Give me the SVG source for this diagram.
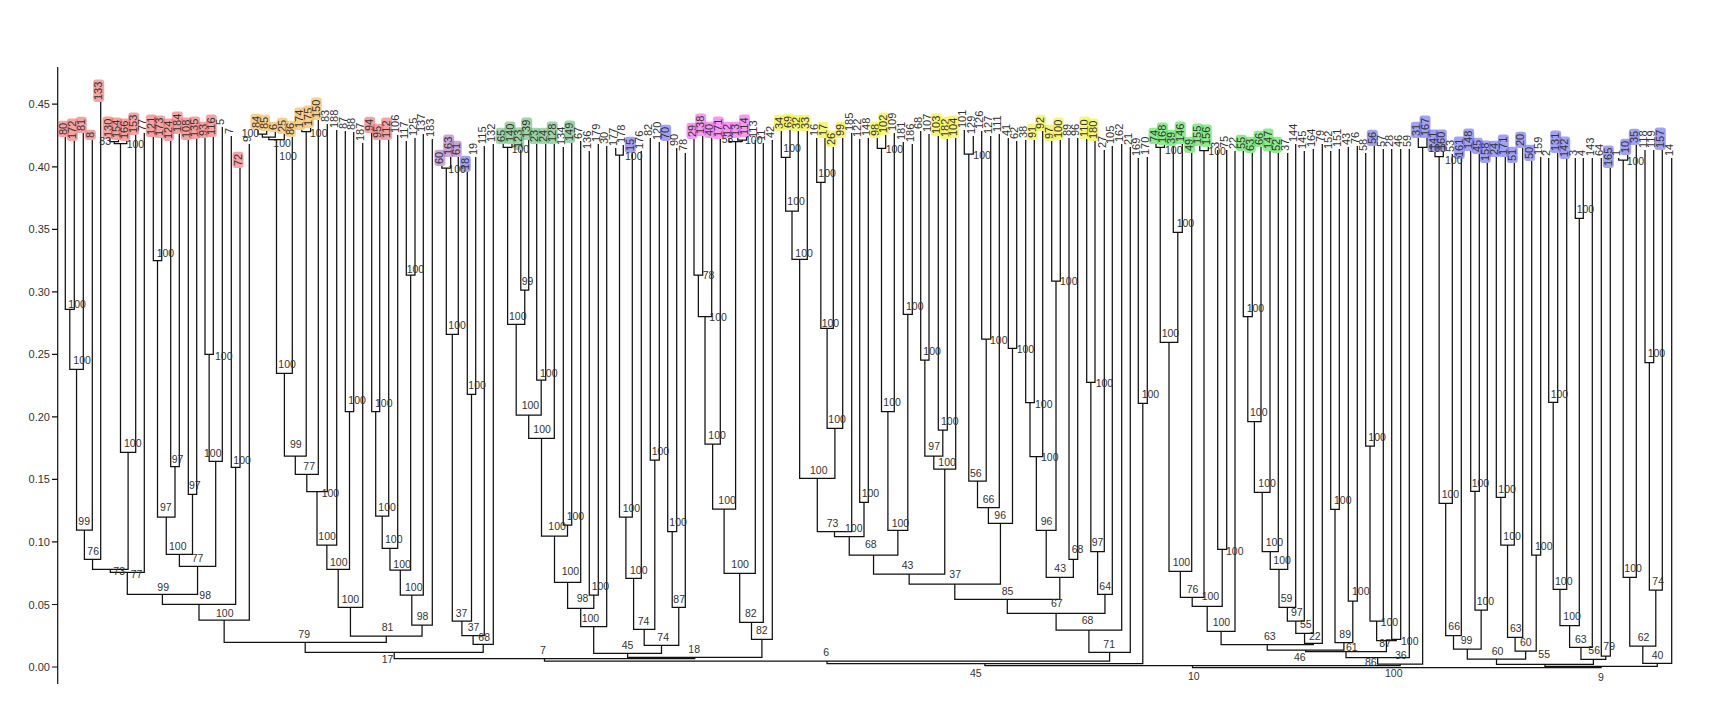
<svg xmlns="http://www.w3.org/2000/svg" width="1721" height="725" viewBox="0 0 1721 725">
<style>
text{font-family:"Liberation Sans",Arial,sans-serif;fill:#333}
.l{font-size:11px}
.b{font-size:10.5px}
.ax{font-size:11px;text-anchor:end}
.e path{fill:none;stroke:#111;stroke-width:1.25}
rect{opacity:.6}
.hr{fill:#ee6666}.ho{fill:#f3b041}.hp{fill:#a66cc2}.hb{fill:#6262ee}.hg{fill:#5fb96f}.hm{fill:#ee55ee}.hy{fill:#f0f020}.hG{fill:#44dd44}
</style>
<rect x="0" y="0" width="1721" height="725" fill="#fff" style="opacity:1"/>
<g id="axis">
<path d="M57.7 67V684M52 667H57.7M52 604.5H57.7M52 541.9H57.7M52 479.4H57.7M52 416.9H57.7M52 354.4H57.7M52 291.8H57.7M52 229.3H57.7M52 166.8H57.7M52 104.2H57.7" stroke="#111" stroke-width="1.2" fill="none"/>
<text class="ax" x="50" y="671">0.00</text><text class="ax" x="50" y="608.5">0.05</text><text class="ax" x="50" y="546">0.10</text><text class="ax" x="50" y="483.4">0.15</text><text class="ax" x="50" y="421">0.20</text><text class="ax" x="50" y="358.4">0.25</text><text class="ax" x="50" y="296">0.30</text><text class="ax" x="50" y="233.3">0.35</text><text class="ax" x="50" y="171">0.40</text><text class="ax" x="50" y="108.3">0.45</text>
</g>
<g id="connectors" class="e">
<path d="M65.3 137V309.3H74.3V141"/><path d="M69.8 309.3V369.3H83.3V133"/><path d="M76.55 369.3V530H92.3V140"/><path d="M84.4 530V559.3H100.7V102"/>
<path d="M110 139V141.7H118.5V140"/><path d="M114.25 141.7V143.5H126.8V141"/><path d="M120.5 143.5V452.3H135.7V135"/>
<path d="M92.55 559.3V569.3H128.1V452.3"/><path d="M110.3 569.3V572.3H144.3V133"/>
<path d="M153.3 137V260.7H161.7V138"/><path d="M170.7 141V466.7H179.3V134"/><path d="M188.3 140V494.3H196.7V139"/><path d="M205 138V354.3H213.3V137"/><path d="M209.15 354.3V461.3H222.3V127"/>
<path d="M157.5 260.7V517H175V466.7"/><path d="M166.25 517V554.3H192.5V494.3"/><path d="M179.4 554.3V566.3H215.7V461.3"/><path d="M127.3 572.3V594.3H197.55V566.3"/>
<path d="M231.3 136V467.3H240V168"/><path d="M162.4 594.3V604.3H235.65V467.3"/><path d="M199 604.3V620H249.3V144"/>
<path d="M258 130V134H266.7V131"/><path d="M262.35 134V137H275.3V132"/><path d="M268.8 137V139.5H284.3V134"/><path d="M276.5 139.5V373.3H292.3V137"/>
<path d="M301.8 130V131.7H310.6V128"/><path d="M284.4 373.3V456H306.2V131.7"/><path d="M295.3 456V474.3H318.3V120"/><path d="M306.8 474.3V491.7H327.3V124"/><path d="M317 491.7V545H336.7V130"/>
<path d="M345.3 131V411.7H353.7V132"/><path d="M326.85 545V569.3H349.5V411.7"/><path d="M338.2 569.3V607.3H362.7V143"/>
<path d="M371.7 133V411.7H379.7V140"/><path d="M375.7 411.7V516H388.7V140"/><path d="M382.2 516V548.3H397.7V135"/><path d="M406.3 141V275H415V138"/><path d="M389.95 548.3V570H410.65V275"/><path d="M400.3 570V595H423.3V134"/><path d="M411.8 595V625H432.3V139"/>
<path d="M350.45 607.3V636H422.05V625"/><path d="M224.15 620V642.3H386.25V636"/>
<path d="M441.9 166V168H450.7V157"/><path d="M446.3 168V334.3H458.3V157"/><path d="M467.3 172V394.3H475.7V157"/><path d="M452.3 334.3V621H471.5V394.3"/><path d="M461.9 621V635.7H484.3V146"/><path d="M473.1 635.7V644.3H493.3V144"/>
<path d="M305.2 642.3V652.3H483.2V644.3"/>
<path d="M503.2 144V147.3H512V144"/><path d="M520.8 150V290H528.7V140"/><path d="M507.6 147.3V324.3H524.75V290"/><path d="M536.7 144V380H545.7V144"/><path d="M516.2 324.3V415H541.2V380"/><path d="M528.7 415V438.3H554.3V144"/>
<path d="M563.3 147V525H571.7V143"/><path d="M541.5 438.3V536H567.5V525"/><path d="M554.5 536V582.3H580.7V141"/><path d="M589.3 151V595H598.3V144"/><path d="M567.6 582.3V608.3H593.8V595"/><path d="M580.7 608.3V626.7H606.7V146"/>
<path d="M615.7 148V155H623.3V145"/><path d="M619.5 155V517H632.3V153"/><path d="M625.9 517V578.3H641.3V151"/><path d="M650.3 138V460H659.3V142"/><path d="M633.6 578.3V629.3H654.8V460"/>
<path d="M667.7 141V531.7H676.7V148"/><path d="M672.2 531.7V607.3H685.3V153"/><path d="M644.2 629.3V645.3H678.75V607.3"/><path d="M593.7 626.7V653.3H661.5V645.3"/>
<path d="M694 139V275H702.7V136"/><path d="M698.35 275V316.7H711.7V138"/><path d="M705 316.7V444H720.3V139"/>
<path d="M737.8 138V140H746.5V137"/><path d="M729 138V141.5H742.15V140"/><path d="M712.65 444V509H735.6V141.5"/><path d="M724.1 509V573.3H755.3V140"/><path d="M739.7 573.3V622.3H763.3V143"/><path d="M751.5 622.3V639.3H772.3V140"/>
<path d="M627.6 653.3V657.3H761.9V639.3"/><path d="M394.2 652.3V658.5H694.75V657.3"/>
<path d="M781.3 131V157.3H790V130"/><path d="M785.65 157.3V211H798.3V131"/><path d="M792 211V259.3H807.3V131"/><path d="M816.7 138V182.3H825V138"/><path d="M820.85 182.3V328.3H833.3V147"/><path d="M827.1 328.3V428.3H842.7V138"/><path d="M799.65 259.3V478.3H834.9V428.3"/><path d="M817.3 478.3V531.7H851.7V133"/>
<path d="M859.7 139V502.3H868.3V138"/><path d="M834.5 531.7V536.7H864V502.3"/><path d="M877.3 138V148.3H885.7V135"/><path d="M881.5 148.3V411.7H894.3V133"/><path d="M903.3 142V314.3H912.3V144"/><path d="M887.9 411.7V530.3H907.8V314.3"/><path d="M849.25 536.7V555H897.85V530.3"/>
<path d="M920.7 131V360H929V134"/><path d="M938.3 136V430H947.3V139"/><path d="M924.85 360V456H942.8V430"/><path d="M933.8 456V469H955.7V138"/><path d="M873.55 555V574H944.75V469"/>
<path d="M964.3 130V154H973.3V136"/><path d="M981.7 131V339H990.7V136"/><path d="M968.8 154V481H986.2V339"/><path d="M977.5 481V507.7H999.3V134"/><path d="M1008.3 138V348.3H1016.7V141"/><path d="M988.4 507.7V523.3H1012.5V348.3"/><path d="M909.15 574V584H1000.45V523.3"/>
<path d="M1025.7 140V402.7H1034.3V140"/><path d="M1030 402.7V456.7H1042.7V131"/><path d="M1051.7 141V281H1060.3V140"/><path d="M1036.35 456.7V530.3H1056V281"/><path d="M1069 138V559.3H1077.7V138"/><path d="M1046.2 530.3V577.3H1073.35V559.3"/><path d="M954.8 584V599.3H1059.8V577.3"/>
<path d="M1086.7 139V382.3H1095V141"/><path d="M1090.85 382.3V551.7H1104.3V150"/><path d="M1097.6 551.7V594.3H1112.3V146"/><path d="M1007.3 599.3V613.3H1104.95V594.3"/><path d="M1056.1 613.3V630H1121.7V144"/><path d="M1088.9 630V652.3H1130.3V147"/>
<path d="M544.5 658.5V661H1109.6V652.3"/><path d="M1138.3 158V403.3H1147.3V157"/><path d="M827.05 661V663.5H1142.8V403.3"/>
<path d="M1156 144V147.3H1164.5V145"/><path d="M1173.3 146V232.3H1182.3V144"/><path d="M1160.25 147.3V342.3H1177.8V232.3"/><path d="M1169 342.3V571.3H1191.7V153"/><path d="M1199.8 146V150.7H1208.3V147"/><path d="M1180.35 571.3V597.3H1204V150.7"/>
<path d="M1217.7 150V549.3H1226.7V150"/><path d="M1192.2 597.3V606.3H1222.2V549.3"/><path d="M1207.2 606.3V631.3H1235V151"/>
<path d="M1243.3 151V316.7H1252.3V153"/><path d="M1247.8 316.7V421.7H1261V147"/><path d="M1254.4 421.7V492.3H1270V151"/><path d="M1262.2 492.3V551.7H1278.3V153"/><path d="M1270.25 551.7V569.3H1287.7V153"/><path d="M1279 569.3V607.3H1295.7V144"/><path d="M1287.35 607.3V621H1304.3V151"/><path d="M1295.8 621V633.3H1313.3V149"/><path d="M1304.55 633.3V643.3H1322.3V144"/><path d="M1221.1 631.3V644.5H1313.4V643.3"/>
<path d="M1330.7 151V509.3H1339.3V149"/><path d="M1348.3 147V601H1357.3V146"/><path d="M1335 509.3V642.7H1352.8V601"/><path d="M1267.25 644.5V650H1343.9V642.7"/>
<path d="M1365.7 153V446H1374.3V146"/><path d="M1370 446V621H1383.3V149"/><path d="M1391.7 149V639.3H1400.7V149"/><path d="M1376.65 621V640.5H1396.2V639.3"/><path d="M1305.6 650V651.5H1386.4V640.5"/><path d="M1346 651.5V657.7H1409.3V149"/>
<path d="M1418.3 138V147.3H1427V138"/><path d="M1377.65 657.7V664H1422.65V147.3"/><path d="M984.9 663.5V665.5H1400.15V664"/>
<path d="M1435 152V156.7H1443.3V152"/><path d="M1439.15 156.7V503.3H1452.3V154"/><path d="M1445.7 503.3V635.7H1461.3V159"/><path d="M1470.7 151V491.3H1479.3V154"/><path d="M1475 491.3V610H1487.3V163"/><path d="M1453.5 635.7V649H1481.15V610"/>
<path d="M1496.3 157V497.3H1505.3V157"/><path d="M1500.8 497.3V545H1514.3V163"/><path d="M1507.55 545V637.3H1522.7V148"/><path d="M1531.7 161V555H1540.7V157"/><path d="M1515.1 637.3V651H1536.2V555"/><path d="M1467.3 649V659H1525.65V651"/>
<path d="M1548.7 158V402.3H1557.7V153"/><path d="M1553.2 402.3V589.3H1566.7V159"/><path d="M1575.3 158V218.3H1583.3V158"/><path d="M1559.95 589.3V625.7H1579.3V218.3"/><path d="M1569.6 625.7V647.3H1592.3V158"/><path d="M1601.3 158V656H1610.3V168"/><path d="M1580.95 647.3V659.3H1605.8V656"/><path d="M1496.5 659V664.3H1593.4V659.3"/>
<path d="M1618.7 158V160H1627.7V155"/><path d="M1623.2 160V577.3H1636.3V145"/><path d="M1645 150V362.7H1653.7V150"/><path d="M1649.35 362.7V590H1662.3V150"/><path d="M1629.75 577.3V646H1655.8V590"/><path d="M1642.8 646V663.3H1671.7V158"/>
<path d="M1544.95 664.3V666.3H1657.25V663.3"/><path d="M1192.5 665.5V667.5H1601.1V666.3"/>
</g>
<g id="leaves" class="l">
<g id="leaf-80"><rect class="hr" x="57.8" y="120.7" width="11" height="16.3" rx="3"/><text class="l" transform="translate(66.8,135)rotate(-90)">80</text></g>
<g id="leaf-172"><rect class="hr" x="66.8" y="118.5" width="11" height="22.5" rx="3"/><text class="l" transform="translate(75.8,139)rotate(-90)">172</text></g>
<g id="leaf-81"><rect class="hr" x="75.8" y="116.7" width="11" height="16.3" rx="3"/><text class="l" transform="translate(84.8,131)rotate(-90)">81</text></g>
<g id="leaf-8"><rect class="hr" x="84.8" y="129.8" width="11" height="10.2" rx="3"/><text class="l" transform="translate(93.8,138)rotate(-90)">8</text></g>
<g id="leaf-133"><rect class="hr" x="93.2" y="79.5" width="11" height="22.5" rx="3"/><text class="l" transform="translate(102.2,100)rotate(-90)">133</text></g>
<g id="leaf-130"><rect class="hr" x="102.5" y="116.5" width="11" height="22.5" rx="3"/><text class="l" transform="translate(111.5,137)rotate(-90)">130</text></g>
<g id="leaf-154"><rect class="hr" x="111" y="117.5" width="11" height="22.5" rx="3"/><text class="l" transform="translate(120,138)rotate(-90)">154</text></g>
<g id="leaf-166"><rect class="hr" x="119.3" y="118.5" width="11" height="22.5" rx="3"/><text class="l" transform="translate(128.3,139)rotate(-90)">166</text></g>
<g id="leaf-153"><rect class="hr" x="128.2" y="112.5" width="11" height="22.5" rx="3"/><text class="l" transform="translate(137.2,133)rotate(-90)">153</text></g>
<g id="leaf-77"><text class="l" transform="translate(145.8,131)rotate(-90)">77</text></g>
<g id="leaf-121"><rect class="hr" x="145.8" y="114.5" width="11" height="22.5" rx="3"/><text class="l" transform="translate(154.8,135)rotate(-90)">121</text></g>
<g id="leaf-173"><rect class="hr" x="154.2" y="115.5" width="11" height="22.5" rx="3"/><text class="l" transform="translate(163.2,136)rotate(-90)">173</text></g>
<g id="leaf-124"><rect class="hr" x="163.2" y="118.5" width="11" height="22.5" rx="3"/><text class="l" transform="translate(172.2,139)rotate(-90)">124</text></g>
<g id="leaf-184"><rect class="hr" x="171.8" y="111.5" width="11" height="22.5" rx="3"/><text class="l" transform="translate(180.8,132)rotate(-90)">184</text></g>
<g id="leaf-108"><rect class="hr" x="180.8" y="117.5" width="11" height="22.5" rx="3"/><text class="l" transform="translate(189.8,138)rotate(-90)">108</text></g>
<g id="leaf-135"><rect class="hr" x="189.2" y="116.5" width="11" height="22.5" rx="3"/><text class="l" transform="translate(198.2,137)rotate(-90)">135</text></g>
<g id="leaf-93"><rect class="hr" x="197.5" y="121.7" width="11" height="16.3" rx="3"/><text class="l" transform="translate(206.5,136)rotate(-90)">93</text></g>
<g id="leaf-116"><rect class="hr" x="205.8" y="114.5" width="11" height="22.5" rx="3"/><text class="l" transform="translate(214.8,135)rotate(-90)">116</text></g>
<g id="leaf-5"><text class="l" transform="translate(223.8,125)rotate(-90)">5</text></g>
<g id="leaf-7"><text class="l" transform="translate(232.8,134)rotate(-90)">7</text></g>
<g id="leaf-72"><rect class="hr" x="232.5" y="151.7" width="11" height="16.3" rx="3"/><text class="l" transform="translate(241.5,166)rotate(-90)">72</text></g>
<g id="leaf-9"><text class="l" transform="translate(250.8,142)rotate(-90)">9</text></g>
<g id="leaf-84"><rect class="ho" x="250.5" y="113.7" width="11" height="16.3" rx="3"/><text class="l" transform="translate(259.5,128)rotate(-90)">84</text></g>
<g id="leaf-85"><rect class="ho" x="259.2" y="114.7" width="11" height="16.3" rx="3"/><text class="l" transform="translate(268.2,129)rotate(-90)">85</text></g>
<g id="leaf-6"><rect class="ho" x="267.8" y="121.8" width="11" height="10.2" rx="3"/><text class="l" transform="translate(276.8,130)rotate(-90)">6</text></g>
<g id="leaf-25"><rect class="ho" x="276.8" y="117.7" width="11" height="16.3" rx="3"/><text class="l" transform="translate(285.8,132)rotate(-90)">25</text></g>
<g id="leaf-86"><rect class="ho" x="284.8" y="120.7" width="11" height="16.3" rx="3"/><text class="l" transform="translate(293.8,135)rotate(-90)">86</text></g>
<g id="leaf-174"><rect class="ho" x="294.3" y="107.5" width="11" height="22.5" rx="3"/><text class="l" transform="translate(303.3,128)rotate(-90)">174</text></g>
<g id="leaf-175"><rect class="ho" x="303.1" y="105.5" width="11" height="22.5" rx="3"/><text class="l" transform="translate(312.1,126)rotate(-90)">175</text></g>
<g id="leaf-150"><rect class="ho" x="310.8" y="97.5" width="11" height="22.5" rx="3"/><text class="l" transform="translate(319.8,118)rotate(-90)">150</text></g>
<g id="leaf-83"><text class="l" transform="translate(328.8,122)rotate(-90)">83</text></g>
<g id="leaf-188"><text class="l" transform="translate(338.2,128)rotate(-90)">188</text></g>
<g id="leaf-87"><text class="l" transform="translate(346.8,129)rotate(-90)">87</text></g>
<g id="leaf-88"><text class="l" transform="translate(355.2,130)rotate(-90)">88</text></g>
<g id="leaf-187"><text class="l" transform="translate(364.2,141)rotate(-90)">187</text></g>
<g id="leaf-94"><rect class="hr" x="364.2" y="116.7" width="11" height="16.3" rx="3"/><text class="l" transform="translate(373.2,131)rotate(-90)">94</text></g>
<g id="leaf-95"><rect class="hr" x="372.2" y="123.7" width="11" height="16.3" rx="3"/><text class="l" transform="translate(381.2,138)rotate(-90)">95</text></g>
<g id="leaf-112"><rect class="hr" x="381.2" y="117.5" width="11" height="22.5" rx="3"/><text class="l" transform="translate(390.2,138)rotate(-90)">112</text></g>
<g id="leaf-106"><text class="l" transform="translate(399.2,133)rotate(-90)">106</text></g>
<g id="leaf-117"><text class="l" transform="translate(407.8,139)rotate(-90)">117</text></g>
<g id="leaf-125"><text class="l" transform="translate(416.5,136)rotate(-90)">125</text></g>
<g id="leaf-137"><text class="l" transform="translate(424.8,132)rotate(-90)">137</text></g>
<g id="leaf-183"><text class="l" transform="translate(433.8,137)rotate(-90)">183</text></g>
<g id="leaf-60"><rect class="hp" x="434.4" y="149.7" width="11" height="16.3" rx="3"/><text class="l" transform="translate(443.4,164)rotate(-90)">60</text></g>
<g id="leaf-163"><rect class="hp" x="443.2" y="134.5" width="11" height="22.5" rx="3"/><text class="l" transform="translate(452.2,155)rotate(-90)">163</text></g>
<g id="leaf-61"><rect class="hp" x="450.8" y="140.7" width="11" height="16.3" rx="3"/><text class="l" transform="translate(459.8,155)rotate(-90)">61</text></g>
<g id="leaf-18"><rect class="hb" x="459.8" y="155.7" width="11" height="16.3" rx="3"/><text class="l" transform="translate(468.8,170)rotate(-90)">18</text></g>
<g id="leaf-19"><text class="l" transform="translate(477.2,155)rotate(-90)">19</text></g>
<g id="leaf-115"><text class="l" transform="translate(485.8,144)rotate(-90)">115</text></g>
<g id="leaf-132"><text class="l" transform="translate(494.8,142)rotate(-90)">132</text></g>
<g id="leaf-65"><rect class="hg" x="495.7" y="127.7" width="11" height="16.3" rx="3"/><text class="l" transform="translate(504.7,142)rotate(-90)">65</text></g>
<g id="leaf-140"><rect class="hg" x="504.5" y="121.5" width="11" height="22.5" rx="3"/><text class="l" transform="translate(513.5,142)rotate(-90)">140</text></g>
<g id="leaf-123"><rect class="hg" x="513.3" y="127.5" width="11" height="22.5" rx="3"/><text class="l" transform="translate(522.3,148)rotate(-90)">123</text></g>
<g id="leaf-139"><rect class="hg" x="521.2" y="117.5" width="11" height="22.5" rx="3"/><text class="l" transform="translate(530.2,138)rotate(-90)">139</text></g>
<g id="leaf-23"><rect class="hg" x="529.2" y="127.7" width="11" height="16.3" rx="3"/><text class="l" transform="translate(538.2,142)rotate(-90)">23</text></g>
<g id="leaf-24a"><rect class="hg" x="538.2" y="127.7" width="11" height="16.3" rx="3"/><text class="l" transform="translate(547.2,142)rotate(-90)">24</text></g>
<g id="leaf-128"><rect class="hg" x="546.8" y="121.5" width="11" height="22.5" rx="3"/><text class="l" transform="translate(555.8,142)rotate(-90)">128</text></g>
<g id="leaf-134"><text class="l" transform="translate(564.8,145)rotate(-90)">134</text></g>
<g id="leaf-149"><rect class="hg" x="564.2" y="120.5" width="11" height="22.5" rx="3"/><text class="l" transform="translate(573.2,141)rotate(-90)">149</text></g>
<g id="leaf-67"><text class="l" transform="translate(582.2,139)rotate(-90)">67</text></g>
<g id="leaf-136"><text class="l" transform="translate(590.8,149)rotate(-90)">136</text></g>
<g id="leaf-179"><text class="l" transform="translate(599.8,142)rotate(-90)">179</text></g>
<g id="leaf-30"><text class="l" transform="translate(608.2,144)rotate(-90)">30</text></g>
<g id="leaf-177"><text class="l" transform="translate(617.2,146)rotate(-90)">177</text></g>
<g id="leaf-178"><text class="l" transform="translate(624.8,143)rotate(-90)">178</text></g>
<g id="leaf-15"><rect class="hb" x="624.8" y="136.7" width="11" height="16.3" rx="3"/><text class="l" transform="translate(633.8,151)rotate(-90)">15</text></g>
<g id="leaf-176"><text class="l" transform="translate(642.8,149)rotate(-90)">176</text></g>
<g id="leaf-82"><text class="l" transform="translate(651.8,136)rotate(-90)">82</text></g>
<g id="leaf-120"><text class="l" transform="translate(660.8,140)rotate(-90)">120</text></g>
<g id="leaf-70"><rect class="hb" x="660.2" y="124.7" width="11" height="16.3" rx="3"/><text class="l" transform="translate(669.2,139)rotate(-90)">70</text></g>
<g id="leaf-90"><text class="l" transform="translate(678.2,146)rotate(-90)">90</text></g>
<g id="leaf-78"><text class="l" transform="translate(686.8,151)rotate(-90)">78</text></g>
<g id="leaf-29"><rect class="hm" x="686.5" y="122.7" width="11" height="16.3" rx="3"/><text class="l" transform="translate(695.5,137)rotate(-90)">29</text></g>
<g id="leaf-138"><rect class="hm" x="695.2" y="113.5" width="11" height="22.5" rx="3"/><text class="l" transform="translate(704.2,134)rotate(-90)">138</text></g>
<g id="leaf-40"><rect class="hm" x="704.2" y="121.7" width="11" height="16.3" rx="3"/><text class="l" transform="translate(713.2,136)rotate(-90)">40</text></g>
<g id="leaf-171a"><rect class="hm" x="712.8" y="116.5" width="11" height="22.5" rx="3"/><text class="l" transform="translate(721.8,137)rotate(-90)">171</text></g>
<g id="leaf-12"><rect class="hm" x="721.5" y="121.7" width="11" height="16.3" rx="3"/><text class="l" transform="translate(730.5,136)rotate(-90)">12</text></g>
<g id="leaf-13"><rect class="hm" x="730.3" y="121.7" width="11" height="16.3" rx="3"/><text class="l" transform="translate(739.3,136)rotate(-90)">13</text></g>
<g id="leaf-114"><rect class="hm" x="739" y="114.5" width="11" height="22.5" rx="3"/><text class="l" transform="translate(748,135)rotate(-90)">114</text></g>
<g id="leaf-113"><text class="l" transform="translate(756.8,138)rotate(-90)">113</text></g>
<g id="leaf-11"><text class="l" transform="translate(764.8,141)rotate(-90)">11</text></g>
<g id="leaf-42"><text class="l" transform="translate(773.8,138)rotate(-90)">42</text></g>
<g id="leaf-34"><rect class="hy" x="773.8" y="114.7" width="11" height="16.3" rx="3"/><text class="l" transform="translate(782.8,129)rotate(-90)">34</text></g>
<g id="leaf-69"><rect class="hy" x="782.5" y="113.7" width="11" height="16.3" rx="3"/><text class="l" transform="translate(791.5,128)rotate(-90)">69</text></g>
<g id="leaf-32"><rect class="hy" x="790.8" y="114.7" width="11" height="16.3" rx="3"/><text class="l" transform="translate(799.8,129)rotate(-90)">32</text></g>
<g id="leaf-33"><rect class="hy" x="799.8" y="114.7" width="11" height="16.3" rx="3"/><text class="l" transform="translate(808.8,129)rotate(-90)">33</text></g>
<g id="leaf-16"><text class="l" transform="translate(818.2,136)rotate(-90)">16</text></g>
<g id="leaf-17"><rect class="hy" x="817.5" y="121.7" width="11" height="16.3" rx="3"/><text class="l" transform="translate(826.5,136)rotate(-90)">17</text></g>
<g id="leaf-26"><rect class="hy" x="825.8" y="130.7" width="11" height="16.3" rx="3"/><text class="l" transform="translate(834.8,145)rotate(-90)">26</text></g>
<g id="leaf-99"><rect class="hy" x="835.2" y="121.7" width="11" height="16.3" rx="3"/><text class="l" transform="translate(844.2,136)rotate(-90)">99</text></g>
<g id="leaf-185"><text class="l" transform="translate(853.2,131)rotate(-90)">185</text></g>
<g id="leaf-122"><text class="l" transform="translate(861.2,137)rotate(-90)">122</text></g>
<g id="leaf-148a"><text class="l" transform="translate(869.8,136)rotate(-90)">148</text></g>
<g id="leaf-98"><rect class="hy" x="869.8" y="121.7" width="11" height="16.3" rx="3"/><text class="l" transform="translate(878.8,136)rotate(-90)">98</text></g>
<g id="leaf-102"><rect class="hy" x="878.2" y="112.5" width="11" height="22.5" rx="3"/><text class="l" transform="translate(887.2,133)rotate(-90)">102</text></g>
<g id="leaf-109"><text class="l" transform="translate(895.8,131)rotate(-90)">109</text></g>
<g id="leaf-181"><text class="l" transform="translate(904.8,140)rotate(-90)">181</text></g>
<g id="leaf-186"><text class="l" transform="translate(913.8,142)rotate(-90)">186</text></g>
<g id="leaf-68"><text class="l" transform="translate(922.2,129)rotate(-90)">68</text></g>
<g id="leaf-107"><text class="l" transform="translate(930.5,132)rotate(-90)">107</text></g>
<g id="leaf-103"><rect class="hy" x="930.8" y="113.5" width="11" height="22.5" rx="3"/><text class="l" transform="translate(939.8,134)rotate(-90)">103</text></g>
<g id="leaf-182"><rect class="hy" x="939.8" y="116.5" width="11" height="22.5" rx="3"/><text class="l" transform="translate(948.8,137)rotate(-90)">182</text></g>
<g id="leaf-104"><rect class="hy" x="948.2" y="115.5" width="11" height="22.5" rx="3"/><text class="l" transform="translate(957.2,136)rotate(-90)">104</text></g>
<g id="leaf-101"><text class="l" transform="translate(965.8,128)rotate(-90)">101</text></g>
<g id="leaf-129"><text class="l" transform="translate(974.8,134)rotate(-90)">129</text></g>
<g id="leaf-126"><text class="l" transform="translate(983.2,129)rotate(-90)">126</text></g>
<g id="leaf-127"><text class="l" transform="translate(992.2,134)rotate(-90)">127</text></g>
<g id="leaf-111"><text class="l" transform="translate(1000.8,132)rotate(-90)">111</text></g>
<g id="leaf-41"><text class="l" transform="translate(1009.8,136)rotate(-90)">41</text></g>
<g id="leaf-62"><text class="l" transform="translate(1018.2,139)rotate(-90)">62</text></g>
<g id="leaf-38"><text class="l" transform="translate(1027.2,138)rotate(-90)">38</text></g>
<g id="leaf-91"><rect class="hy" x="1026.8" y="123.7" width="11" height="16.3" rx="3"/><text class="l" transform="translate(1035.8,138)rotate(-90)">91</text></g>
<g id="leaf-92"><rect class="hy" x="1035.2" y="114.7" width="11" height="16.3" rx="3"/><text class="l" transform="translate(1044.2,129)rotate(-90)">92</text></g>
<g id="leaf-97"><rect class="hy" x="1044.2" y="124.7" width="11" height="16.3" rx="3"/><text class="l" transform="translate(1053.2,139)rotate(-90)">97</text></g>
<g id="leaf-100"><rect class="hy" x="1052.8" y="117.5" width="11" height="22.5" rx="3"/><text class="l" transform="translate(1061.8,138)rotate(-90)">100</text></g>
<g id="leaf-89"><text class="l" transform="translate(1070.5,136)rotate(-90)">89</text></g>
<g id="leaf-96"><text class="l" transform="translate(1079.2,136)rotate(-90)">96</text></g>
<g id="leaf-110"><rect class="hy" x="1079.2" y="116.5" width="11" height="22.5" rx="3"/><text class="l" transform="translate(1088.2,137)rotate(-90)">110</text></g>
<g id="leaf-180"><rect class="hy" x="1087.5" y="118.5" width="11" height="22.5" rx="3"/><text class="l" transform="translate(1096.5,139)rotate(-90)">180</text></g>
<g id="leaf-27"><text class="l" transform="translate(1105.8,148)rotate(-90)">27</text></g>
<g id="leaf-105"><text class="l" transform="translate(1113.8,144)rotate(-90)">105</text></g>
<g id="leaf-162"><text class="l" transform="translate(1123.2,142)rotate(-90)">162</text></g>
<g id="leaf-21"><text class="l" transform="translate(1131.8,145)rotate(-90)">21</text></g>
<g id="leaf-169"><text class="l" transform="translate(1139.8,156)rotate(-90)">169</text></g>
<g id="leaf-170"><text class="l" transform="translate(1148.8,155)rotate(-90)">170</text></g>
<g id="leaf-74"><rect class="hG" x="1148.5" y="127.7" width="11" height="16.3" rx="3"/><text class="l" transform="translate(1157.5,142)rotate(-90)">74</text></g>
<g id="leaf-168"><rect class="hG" x="1157" y="122.5" width="11" height="22.5" rx="3"/><text class="l" transform="translate(1166,143)rotate(-90)">168</text></g>
<g id="leaf-39"><rect class="hG" x="1165.8" y="129.7" width="11" height="16.3" rx="3"/><text class="l" transform="translate(1174.8,144)rotate(-90)">39</text></g>
<g id="leaf-146"><rect class="hG" x="1174.8" y="121.5" width="11" height="22.5" rx="3"/><text class="l" transform="translate(1183.8,142)rotate(-90)">146</text></g>
<g id="leaf-49"><rect class="hG" x="1184.2" y="136.7" width="11" height="16.3" rx="3"/><text class="l" transform="translate(1193.2,151)rotate(-90)">49</text></g>
<g id="leaf-155"><rect class="hG" x="1192.3" y="123.5" width="11" height="22.5" rx="3"/><text class="l" transform="translate(1201.3,144)rotate(-90)">155</text></g>
<g id="leaf-156"><rect class="hG" x="1200.8" y="124.5" width="11" height="22.5" rx="3"/><text class="l" transform="translate(1209.8,145)rotate(-90)">156</text></g>
<g id="leaf-3a"><text class="l" transform="translate(1219.2,148)rotate(-90)">3</text></g>
<g id="leaf-75"><text class="l" transform="translate(1228.2,148)rotate(-90)">75</text></g>
<g id="leaf-22"><text class="l" transform="translate(1236.5,149)rotate(-90)">22</text></g>
<g id="leaf-55"><rect class="hG" x="1235.8" y="134.7" width="11" height="16.3" rx="3"/><text class="l" transform="translate(1244.8,149)rotate(-90)">55</text></g>
<g id="leaf-63"><rect class="hG" x="1244.8" y="136.7" width="11" height="16.3" rx="3"/><text class="l" transform="translate(1253.8,151)rotate(-90)">63</text></g>
<g id="leaf-66"><rect class="hG" x="1253.5" y="130.7" width="11" height="16.3" rx="3"/><text class="l" transform="translate(1262.5,145)rotate(-90)">66</text></g>
<g id="leaf-147"><rect class="hG" x="1262.5" y="128.5" width="11" height="22.5" rx="3"/><text class="l" transform="translate(1271.5,149)rotate(-90)">147</text></g>
<g id="leaf-52"><rect class="hG" x="1270.8" y="136.7" width="11" height="16.3" rx="3"/><text class="l" transform="translate(1279.8,151)rotate(-90)">52</text></g>
<g id="leaf-37"><text class="l" transform="translate(1289.2,151)rotate(-90)">37</text></g>
<g id="leaf-144"><text class="l" transform="translate(1297.2,142)rotate(-90)">144</text></g>
<g id="leaf-145"><text class="l" transform="translate(1305.8,149)rotate(-90)">145</text></g>
<g id="leaf-164"><text class="l" transform="translate(1314.8,147)rotate(-90)">164</text></g>
<g id="leaf-79"><text class="l" transform="translate(1323.8,142)rotate(-90)">79</text></g>
<g id="leaf-152"><text class="l" transform="translate(1332.2,149)rotate(-90)">152</text></g>
<g id="leaf-151"><text class="l" transform="translate(1340.8,147)rotate(-90)">151</text></g>
<g id="leaf-43"><text class="l" transform="translate(1349.8,145)rotate(-90)">43</text></g>
<g id="leaf-76"><text class="l" transform="translate(1358.8,144)rotate(-90)">76</text></g>
<g id="leaf-58"><text class="l" transform="translate(1367.2,151)rotate(-90)">58</text></g>
<g id="leaf-56"><rect class="hb" x="1366.8" y="129.7" width="11" height="16.3" rx="3"/><text class="l" transform="translate(1375.8,144)rotate(-90)">56</text></g>
<g id="leaf-57"><text class="l" transform="translate(1384.8,147)rotate(-90)">57</text></g>
<g id="leaf-28"><text class="l" transform="translate(1393.2,147)rotate(-90)">28</text></g>
<g id="leaf-46"><text class="l" transform="translate(1402.2,147)rotate(-90)">46</text></g>
<g id="leaf-59"><text class="l" transform="translate(1410.8,147)rotate(-90)">59</text></g>
<g id="leaf-31"><rect class="hb" x="1410.8" y="121.7" width="11" height="16.3" rx="3"/><text class="l" transform="translate(1419.8,136)rotate(-90)">31</text></g>
<g id="leaf-167"><rect class="hb" x="1419.5" y="115.5" width="11" height="22.5" rx="3"/><text class="l" transform="translate(1428.5,136)rotate(-90)">167</text></g>
<g id="leaf-141"><rect class="hb" x="1427.5" y="129.5" width="11" height="22.5" rx="3"/><text class="l" transform="translate(1436.5,150)rotate(-90)">141</text></g>
<g id="leaf-160"><rect class="hb" x="1435.8" y="129.5" width="11" height="22.5" rx="3"/><text class="l" transform="translate(1444.8,150)rotate(-90)">160</text></g>
<g id="leaf-53"><text class="l" transform="translate(1453.8,152)rotate(-90)">53</text></g>
<g id="leaf-161"><rect class="hb" x="1453.8" y="136.5" width="11" height="22.5" rx="3"/><text class="l" transform="translate(1462.8,157)rotate(-90)">161</text></g>
<g id="leaf-148b"><rect class="hb" x="1463.2" y="128.5" width="11" height="22.5" rx="3"/><text class="l" transform="translate(1472.2,149)rotate(-90)">148</text></g>
<g id="leaf-45"><rect class="hb" x="1471.8" y="137.7" width="11" height="16.3" rx="3"/><text class="l" transform="translate(1480.8,152)rotate(-90)">45</text></g>
<g id="leaf-158"><rect class="hb" x="1479.8" y="140.5" width="11" height="22.5" rx="3"/><text class="l" transform="translate(1488.8,161)rotate(-90)">158</text></g>
<g id="leaf-24b"><rect class="hb" x="1488.8" y="140.7" width="11" height="16.3" rx="3"/><text class="l" transform="translate(1497.8,155)rotate(-90)">24</text></g>
<g id="leaf-171b"><rect class="hb" x="1497.8" y="134.5" width="11" height="22.5" rx="3"/><text class="l" transform="translate(1506.8,155)rotate(-90)">171</text></g>
<g id="leaf-51"><rect class="hb" x="1506.8" y="146.7" width="11" height="16.3" rx="3"/><text class="l" transform="translate(1515.8,161)rotate(-90)">51</text></g>
<g id="leaf-20"><rect class="hb" x="1515.2" y="131.7" width="11" height="16.3" rx="3"/><text class="l" transform="translate(1524.2,146)rotate(-90)">20</text></g>
<g id="leaf-50"><rect class="hb" x="1524.2" y="144.7" width="11" height="16.3" rx="3"/><text class="l" transform="translate(1533.2,159)rotate(-90)">50</text></g>
<g id="leaf-159"><text class="l" transform="translate(1542.2,155)rotate(-90)">159</text></g>
<g id="leaf-2"><text class="l" transform="translate(1550.2,156)rotate(-90)">2</text></g>
<g id="leaf-131"><rect class="hb" x="1550.2" y="130.5" width="11" height="22.5" rx="3"/><text class="l" transform="translate(1559.2,151)rotate(-90)">131</text></g>
<g id="leaf-142"><rect class="hb" x="1559.2" y="136.5" width="11" height="22.5" rx="3"/><text class="l" transform="translate(1568.2,157)rotate(-90)">142</text></g>
<g id="leaf-3b"><text class="l" transform="translate(1576.8,156)rotate(-90)">3</text></g>
<g id="leaf-4"><text class="l" transform="translate(1584.8,156)rotate(-90)">4</text></g>
<g id="leaf-143"><text class="l" transform="translate(1593.8,156)rotate(-90)">143</text></g>
<g id="leaf-64"><text class="l" transform="translate(1602.8,156)rotate(-90)">64</text></g>
<g id="leaf-165"><rect class="hb" x="1602.8" y="145.5" width="11" height="22.5" rx="3"/><text class="l" transform="translate(1611.8,166)rotate(-90)">165</text></g>
<g id="leaf-1"><text class="l" transform="translate(1620.2,156)rotate(-90)">1</text></g>
<g id="leaf-10"><rect class="hb" x="1620.2" y="138.7" width="11" height="16.3" rx="3"/><text class="l" transform="translate(1629.2,153)rotate(-90)">10</text></g>
<g id="leaf-35"><rect class="hb" x="1628.8" y="128.7" width="11" height="16.3" rx="3"/><text class="l" transform="translate(1637.8,143)rotate(-90)">35</text></g>
<g id="leaf-118"><text class="l" transform="translate(1646.5,148)rotate(-90)">118</text></g>
<g id="leaf-119"><text class="l" transform="translate(1655.2,148)rotate(-90)">119</text></g>
<g id="leaf-157"><rect class="hb" x="1654.8" y="127.5" width="11" height="22.5" rx="3"/><text class="l" transform="translate(1663.8,148)rotate(-90)">157</text></g>
<g id="leaf-14"><text class="l" transform="translate(1673.2,156)rotate(-90)">14</text></g>
</g>
<g id="support" class="b">
<g id="nA1"><text class="b" x="68.3" y="308.3">100</text></g><g id="nA2"><text class="b" x="73.3" y="364">100</text></g><g id="nA3"><text class="b" x="78.3" y="525">99</text></g><g id="nA4"><text class="b" x="87.3" y="555">76</text></g>
<g id="nB1"><text class="b" x="99.3" y="145">83</text></g><g id="nB2"><text class="b" x="126.7" y="148.3">100</text></g><g id="nB3"><text class="b" x="124" y="446.7">100</text></g>
<g id="nA5"><text class="b" x="113.3" y="575">73</text></g><g id="nA6"><text class="b" x="130.7" y="578.3">77</text></g>
<g id="nC1"><text class="b" x="156.7" y="257.3">100</text></g><g id="nC2"><text class="b" x="171.7" y="463.3">97</text></g><g id="nC3"><text class="b" x="189" y="489">97</text></g><g id="nC4"><text class="b" x="215" y="360">100</text></g><g id="nC5"><text class="b" x="204" y="457.3">100</text></g>
<g id="nC6"><text class="b" x="160" y="510.7">97</text></g><g id="nC7"><text class="b" x="169" y="550">100</text></g><g id="nC8"><text class="b" x="191.7" y="562.3">77</text></g><g id="nA7"><text class="b" x="157.3" y="590.7">99</text></g>
<g id="nD1"><text class="b" x="233.3" y="464">100</text></g><g id="nA8"><text class="b" x="199.3" y="599">98</text></g><g id="nA9"><text class="b" x="216" y="617.3">100</text></g>
<g id="nO1"><text class="b" x="241.7" y="137">100</text></g><g id="nO2"><text class="b" x="279.3" y="160">100</text></g><g id="nO3"><text class="b" x="273.3" y="147">100</text></g><g id="nO4"><text class="b" x="278.3" y="368">100</text></g>
<g id="nO5"><text class="b" x="310" y="136.7">100</text></g><g id="nO6"><text class="b" x="290" y="448">99</text></g><g id="nO7"><text class="b" x="303.3" y="470">77</text></g><g id="nO8"><text class="b" x="321.7" y="497">100</text></g><g id="nO9"><text class="b" x="318.3" y="540">100</text></g>
<g id="nO10"><text class="b" x="348.3" y="404">100</text></g><g id="nO11"><text class="b" x="330" y="566">100</text></g><g id="nO12"><text class="b" x="341.7" y="603">100</text></g>
<g id="nP1"><text class="b" x="375" y="407">100</text></g><g id="nP2"><text class="b" x="378.3" y="511">100</text></g><g id="nP3"><text class="b" x="385" y="543">100</text></g><g id="nP4"><text class="b" x="406.7" y="273">100</text></g><g id="nP5"><text class="b" x="393.3" y="568">100</text></g><g id="nP6"><text class="b" x="405" y="591">100</text></g><g id="nP7"><text class="b" x="416.7" y="620">98</text></g>
<g id="n81"><text class="b" x="381.7" y="631">81</text></g><g id="n79"><text class="b" x="298.3" y="638">79</text></g>
<g id="nQ0"><text class="b" x="448.3" y="173.3">100</text></g><g id="nQ1"><text class="b" x="448.3" y="328.7">100</text></g><g id="nQ2"><text class="b" x="468.3" y="389">100</text></g><g id="nQ3"><text class="b" x="455.7" y="617.3">37</text></g><g id="nQ4"><text class="b" x="467.7" y="630.7">37</text></g><g id="nQ5"><text class="b" x="478.3" y="640.7">68</text></g>
<g id="n17"><text class="b" x="381.7" y="663">17</text></g>
<g id="nG1"><text class="b" x="511.7" y="152.7">100</text></g><g id="nG2"><text class="b" x="521.7" y="285">99</text></g><g id="nG3"><text class="b" x="509" y="320">100</text></g><g id="nG4"><text class="b" x="540" y="377">100</text></g><g id="nG5"><text class="b" x="521.7" y="409">100</text></g><g id="nG6"><text class="b" x="533.3" y="433">100</text></g>
<g id="nG7"><text class="b" x="566.7" y="520">100</text></g><g id="nG8"><text class="b" x="548.3" y="530">100</text></g><g id="nG9"><text class="b" x="561.7" y="575">100</text></g><g id="nG10"><text class="b" x="591.7" y="590">100</text></g><g id="nG11"><text class="b" x="576.7" y="602.3">98</text></g><g id="nG12"><text class="b" x="581.7" y="621.7">100</text></g>
<g id="nH0"><text class="b" x="625" y="160">100</text></g><g id="nH1"><text class="b" x="622.7" y="512">100</text></g><g id="nH2"><text class="b" x="630" y="574">100</text></g><g id="nH4"><text class="b" x="651.7" y="455">100</text></g><g id="nH3"><text class="b" x="637.7" y="625">74</text></g>
<g id="nH5"><text class="b" x="669.3" y="526">100</text></g><g id="nH6"><text class="b" x="673.3" y="603">87</text></g><g id="nH7"><text class="b" x="657.3" y="641">74</text></g><g id="n45a"><text class="b" x="621.7" y="649.3">45</text></g>
<g id="nM1"><text class="b" x="702.7" y="279">78</text></g><g id="nM2"><text class="b" x="709.3" y="321">100</text></g><g id="nM3"><text class="b" x="708.3" y="439">100</text></g><g id="nMc1"><text class="b" x="745" y="144">100</text></g><g id="nMc2"><text class="b" x="721.7" y="143">53</text></g>
<g id="nM4"><text class="b" x="718.3" y="504">100</text></g><g id="nM5"><text class="b" x="731.3" y="568">100</text></g><g id="nM6"><text class="b" x="745" y="617">82</text></g><g id="nM7"><text class="b" x="756" y="633.7">82</text></g>
<g id="n18"><text class="b" x="688.3" y="652.7">18</text></g><g id="n7"><text class="b" x="540" y="654">7</text></g>
<g id="nY1"><text class="b" x="783.3" y="151.7">100</text></g><g id="nY2"><text class="b" x="787.3" y="205">100</text></g><g id="nY3"><text class="b" x="795.3" y="257">100</text></g><g id="nY4"><text class="b" x="818.3" y="177">100</text></g><g id="nY5"><text class="b" x="821.7" y="327">100</text></g><g id="nY6"><text class="b" x="828.3" y="423">100</text></g><g id="nY7"><text class="b" x="810" y="474">100</text></g><g id="nY8"><text class="b" x="826.7" y="527">73</text></g>
<g id="nZ8"><text class="b" x="861.7" y="497">100</text></g><g id="nY9"><text class="b" x="845" y="532">100</text></g><g id="nZ1"><text class="b" x="885.7" y="153">100</text></g><g id="nZb"><text class="b" x="883.3" y="406">100</text></g><g id="nZ3"><text class="b" x="906" y="310">100</text></g><g id="nZ9"><text class="b" x="891.7" y="527">100</text></g><g id="n68a"><text class="b" x="865" y="548">68</text></g>
<g id="nZ4"><text class="b" x="923.3" y="355">100</text></g><g id="nW1"><text class="b" x="941" y="425">100</text></g><g id="nW2"><text class="b" x="928.3" y="450">97</text></g><g id="nW3"><text class="b" x="938.3" y="466">100</text></g><g id="n43a"><text class="b" x="901.7" y="569">43</text></g>
<g id="nZ2"><text class="b" x="973.3" y="159">100</text></g><g id="nZ5"><text class="b" x="990" y="344">100</text></g><g id="nV1"><text class="b" x="970" y="477">56</text></g><g id="nV2"><text class="b" x="982.7" y="503">66</text></g><g id="nZ6"><text class="b" x="1016.7" y="353">100</text></g><g id="nV3"><text class="b" x="994.3" y="519">96</text></g><g id="n37"><text class="b" x="949.3" y="578">37</text></g>
<g id="nU1"><text class="b" x="1035" y="408">100</text></g><g id="nU2"><text class="b" x="1041" y="461">100</text></g><g id="nZ7"><text class="b" x="1060" y="285">100</text></g><g id="nU3"><text class="b" x="1040.7" y="525">96</text></g><g id="nU4"><text class="b" x="1071.7" y="553">68</text></g><g id="nU5"><text class="b" x="1054.3" y="572">43</text></g><g id="n85"><text class="b" x="1001.7" y="595">85</text></g>
<g id="nT1"><text class="b" x="1095.7" y="387">100</text></g><g id="nT2"><text class="b" x="1091.7" y="546">97</text></g><g id="nT3"><text class="b" x="1099.3" y="590">64</text></g><g id="n67"><text class="b" x="1051" y="607">67</text></g><g id="n68b"><text class="b" x="1081.7" y="624">68</text></g><g id="n71"><text class="b" x="1103.3" y="648">71</text></g>
<g id="n6"><text class="b" x="823.3" y="656">6</text></g><g id="nX"><text class="b" x="1141.7" y="398">100</text></g><g id="n45b"><text class="b" x="970" y="677">45</text></g>
<g id="nS0a"><text class="b" x="1165" y="154">100</text></g><g id="nS0b"><text class="b" x="1176.7" y="227">100</text></g><g id="nS1"><text class="b" x="1161.7" y="337">100</text></g><g id="nS4"><text class="b" x="1172.7" y="566">100</text></g><g id="nS2"><text class="b" x="1208.3" y="155">100</text></g><g id="nS5"><text class="b" x="1186.7" y="593">76</text></g>
<g id="nS7"><text class="b" x="1226" y="555">100</text></g><g id="nS6"><text class="b" x="1201.7" y="600">100</text></g><g id="nS8"><text class="b" x="1212.7" y="626">100</text></g>
<g id="nS3"><text class="b" x="1246.7" y="312">100</text></g><g id="nS9"><text class="b" x="1250" y="416">100</text></g><g id="nS10"><text class="b" x="1258.3" y="487">100</text></g><g id="nS11"><text class="b" x="1265.7" y="546">100</text></g><g id="nS12"><text class="b" x="1273.3" y="564">100</text></g><g id="nS13"><text class="b" x="1280.7" y="602">59</text></g><g id="nS14"><text class="b" x="1291" y="616">97</text></g><g id="nS15"><text class="b" x="1300" y="628">55</text></g><g id="nS16"><text class="b" x="1309" y="640">22</text></g><g id="nS17"><text class="b" x="1264" y="640">63</text></g>
<g id="nR1"><text class="b" x="1334" y="504">100</text></g><g id="nR2"><text class="b" x="1352" y="595">100</text></g><g id="nR3"><text class="b" x="1339.3" y="638">89</text></g><g id="n46"><text class="b" x="1294" y="661">46</text></g>
<g id="nR4"><text class="b" x="1368.3" y="441">100</text></g><g id="nR5"><text class="b" x="1380.7" y="626">100</text></g><g id="nR7"><text class="b" x="1401" y="645">100</text></g><g id="nR6"><text class="b" x="1379.3" y="647">87</text></g><g id="n61"><text class="b" x="1346" y="650.5">61</text></g><g id="n36"><text class="b" x="1395" y="659">36</text></g>
<g id="nN31"><text class="b" x="1428.3" y="152">100</text></g><g id="n86"><text class="b" x="1365" y="665.5">86</text></g><g id="n10"><text class="b" x="1188" y="680">10</text></g>
<g id="nK1"><text class="b" x="1445" y="164">100</text></g><g id="nK5"><text class="b" x="1441.7" y="498">100</text></g><g id="nK16"><text class="b" x="1448.3" y="630">66</text></g><g id="nK6"><text class="b" x="1471.7" y="487">100</text></g><g id="nK17"><text class="b" x="1476.7" y="605">100</text></g><g id="nK18"><text class="b" x="1460.7" y="644">99</text></g>
<g id="nK7"><text class="b" x="1498.3" y="493">100</text></g><g id="nK8"><text class="b" x="1503.3" y="540">100</text></g><g id="nK19"><text class="b" x="1510" y="632">63</text></g><g id="nK9"><text class="b" x="1535" y="550">100</text></g><g id="nK20"><text class="b" x="1520" y="646">60</text></g><g id="nK21"><text class="b" x="1491.7" y="655">60</text></g>
<g id="nK10"><text class="b" x="1550.7" y="398">100</text></g><g id="nK11"><text class="b" x="1555" y="585">100</text></g><g id="nK2"><text class="b" x="1576.7" y="213">100</text></g><g id="nK12"><text class="b" x="1563.3" y="620">100</text></g><g id="nK13"><text class="b" x="1575" y="643">63</text></g><g id="nK14"><text class="b" x="1603.3" y="650">79</text></g><g id="nK15"><text class="b" x="1588.3" y="654">56</text></g><g id="nK22"><text class="b" x="1538.3" y="658">55</text></g>
<g id="nK3"><text class="b" x="1626.7" y="165">100</text></g><g id="nK23"><text class="b" x="1624.3" y="572">100</text></g><g id="nK4"><text class="b" x="1647.7" y="357">100</text></g><g id="nK24"><text class="b" x="1652.3" y="585">74</text></g><g id="nK25"><text class="b" x="1637.7" y="641">62</text></g><g id="nK26"><text class="b" x="1651.7" y="659">40</text></g>
<g id="n9"><text class="b" x="1598" y="681">9</text></g><g id="nRoot"><text class="b" x="1385" y="677">100</text></g>
</g>
</svg>
